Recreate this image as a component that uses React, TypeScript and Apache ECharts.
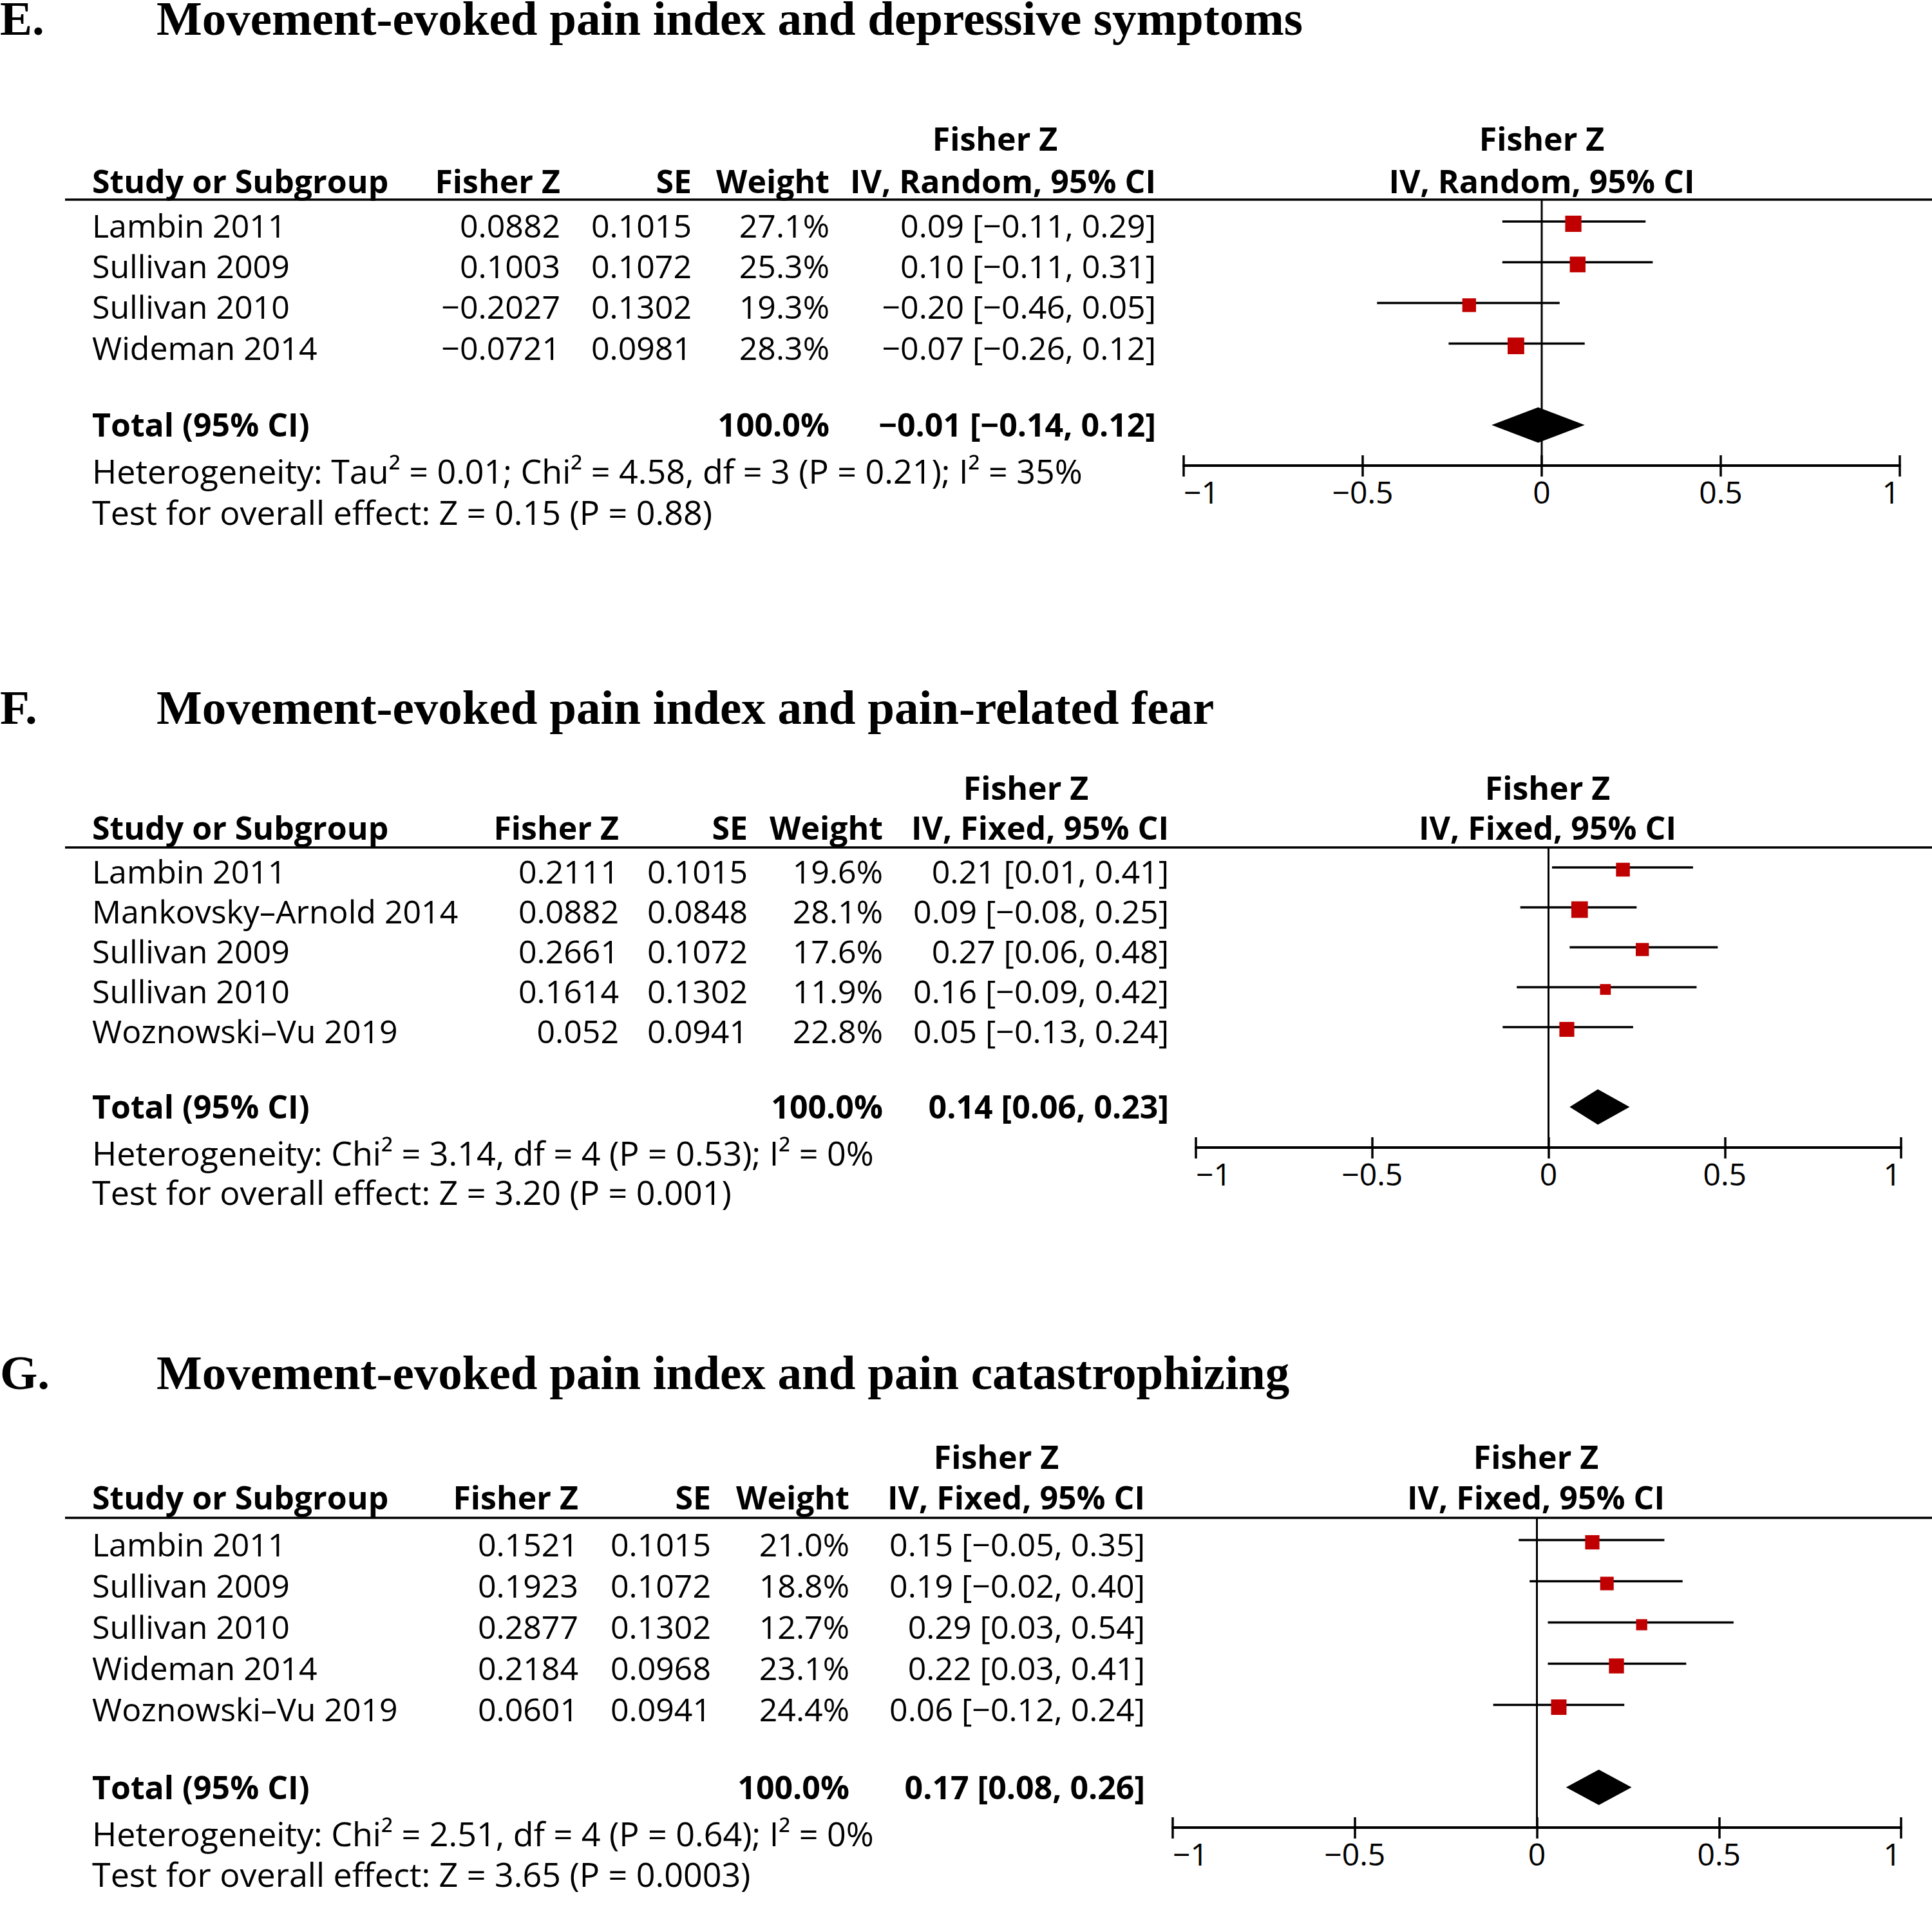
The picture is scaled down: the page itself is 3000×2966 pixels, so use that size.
import React, { useEffect, useRef } from "react";
import * as echarts from "echarts";

// ---------------- DATA ----------------
const panelLetters = ["E.", "F.", "G."];
const panelTitles = [
  "Movement-evoked pain index and depressive symptoms",
  "Movement-evoked pain index and pain-related fear",
  "Movement-evoked pain index and pain catastrophizing",
];
const panelMethods = ["IV, Random, 95% CI", "IV, Fixed, 95% CI", "IV, Fixed, 95% CI"];

// Panel E
const studiesE = ["Lambin 2011", "Sullivan 2009", "Sullivan 2010", "Wideman 2014"];
const fisherZE = [0.0882, 0.1003, -0.2027, -0.0721];
const seE = [0.1015, 0.1072, 0.1302, 0.0981];
const weightE = [27.1, 25.3, 19.3, 28.3];
const estE = [0.09, 0.1, -0.2, -0.07];
const lowE = [-0.11, -0.11, -0.46, -0.26];
const highE = [0.29, 0.31, 0.05, 0.12];
const totalE = [-0.01, -0.14, 0.12];
const hetE = "Heterogeneity: Tau² = 0.01; Chi² = 4.58, df = 3 (P = 0.21); I² = 35%";
const testE = "Test for overall effect: Z = 0.15 (P = 0.88)";

// Panel F
const studiesF = ["Lambin 2011", "Mankovsky–Arnold 2014", "Sullivan 2009", "Sullivan 2010", "Woznowski–Vu 2019"];
const fisherZF = [0.2111, 0.0882, 0.2661, 0.1614, 0.052];
const seF = [0.1015, 0.0848, 0.1072, 0.1302, 0.0941];
const weightF = [19.6, 28.1, 17.6, 11.9, 22.8];
const estF = [0.21, 0.09, 0.27, 0.16, 0.05];
const lowF = [0.01, -0.08, 0.06, -0.09, -0.13];
const highF = [0.41, 0.25, 0.48, 0.42, 0.24];
const totalF = [0.14, 0.06, 0.23];
const hetF = "Heterogeneity: Chi² = 3.14, df = 4 (P = 0.53); I² = 0%";
const testF = "Test for overall effect: Z = 3.20 (P = 0.001)";

// Panel G
const studiesG = ["Lambin 2011", "Sullivan 2009", "Sullivan 2010", "Wideman 2014", "Woznowski–Vu 2019"];
const fisherZG = [0.1521, 0.1923, 0.2877, 0.2184, 0.0601];
const seG = [0.1015, 0.1072, 0.1302, 0.0968, 0.0941];
const weightG = [21.0, 18.8, 12.7, 23.1, 24.4];
const estG = [0.15, 0.19, 0.29, 0.22, 0.06];
const lowG = [-0.05, -0.02, 0.03, 0.03, -0.12];
const highG = [0.35, 0.4, 0.54, 0.41, 0.24];
const totalG = [0.17, 0.08, 0.26];
const hetG = "Heterogeneity: Chi² = 2.51, df = 4 (P = 0.64); I² = 0%";
const testG = "Test for overall effect: Z = 3.65 (P = 0.0003)";

const axisMin = -1;
const axisMax = 1;
const axisStep = 0.5;
const headerLabels = ["Study or Subgroup", "Fisher Z", "SE", "Weight"];
const upperHeader = "Fisher Z";
const totalLabel = "Total (95% CI)";
const totalWeight = "100.0%";

// ---------------- LAYOUT (positions/styles only) ----------------
const layouts = [
  { titleY: 28, upperY: 215, headY: 281, lineY: 310, axisY: 723, row0: 344, step: 63.2, axL: 1838, axR: 2950,
    name: 143, fz: 870, se: 1074, w: 1288, ci: 1795, upper: 1545, plot: 2394, hetDy: 71, testDy: 135 },
  { titleY: 1098, upperY: 1223, headY: 1285, lineY: 1316, axisY: 1782, row0: 1347, step: 62, axL: 1857, axR: 2952,
    name: 143, fz: 961, se: 1161, w: 1371, ci: 1815, upper: 1593, plot: 2403, hetDy: 71, testDy: 132 },
  { titleY: 2131, upperY: 2262, headY: 2325, lineY: 2357, axisY: 2838, row0: 2391.5, step: 64, axL: 1821, axR: 2952,
    name: 143, fz: 898, se: 1104, w: 1319, ci: 1778, upper: 1547, plot: 2385, hetDy: 72, testDy: 135 },
];

const FONT = '"Open Sans", "Noto Sans", sans-serif';
const SERIF = '"Liberation Serif", "Times New Roman", serif';
const FS = 50;
const FS_FOOT = 52;
const RED = "#C00000";
const ROW_TEXT_DY = 6;
const TOTAL_TEXT_DY = -1;
const SQ_DY = 3.5;
const SQ_K = 4.85;
const DIAMOND_HALF = 27.5;

const fmtNum = (v: number) => (v < 0 ? "−" + String(Math.abs(v)) : String(v));
const fmt2 = (v: number) => (v < 0 ? "−" + Math.abs(v).toFixed(2) : v.toFixed(2));
const fmtCI = (e: number, l: number, h: number) => `${fmt2(e)} [${fmt2(l)}, ${fmt2(h)}]`;

const panels = [
  { studies: studiesE, fz: fisherZE, se: seE, w: weightE, est: estE, lo: lowE, hi: highE, total: totalE, het: hetE, test: testE },
  { studies: studiesF, fz: fisherZF, se: seF, w: weightF, est: estF, lo: lowF, hi: highF, total: totalF, het: hetF, test: testF },
  { studies: studiesG, fz: fisherZG, se: seG, w: weightG, est: estG, lo: lowG, hi: highG, total: totalG, het: hetG, test: testG },
];

function txt(text: string, x: number, y: number, align: string, bold: boolean, size = FS, family = FONT, lh = 54) {
  return {
    type: "text",
    x,
    y,
    silent: true,
    style: {
      text,
      fill: "#000",
      fontSize: size,
      fontFamily: family,
      fontWeight: bold ? "bold" : "normal",
      lineHeight: lh,
      align,
      textAlign: align,
      verticalAlign: "middle",
      textVerticalAlign: "middle",
    },
  };
}

function buildOption() {
  const grid: any[] = [];
  const xAxis: any[] = [];
  const yAxis: any[] = [];
  const series: any[] = [];
  const graphic: any[] = [];

  panels.forEach((p, pi) => {
    const L = layouts[pi];
    const n = p.studies.length;
    const totalRow = n + 1;
    const yMin = -(L.row0 - L.lineY) / L.step;
    const yMax = (L.axisY - L.row0) / L.step;

    grid.push({ left: L.axL, top: L.lineY, width: L.axR - L.axL, height: L.axisY - L.lineY, containLabel: false });

    xAxis.push({
      type: "value", gridIndex: pi, min: axisMin, max: axisMax, interval: axisStep, position: "bottom",
      axisLine: { show: true, onZero: false, lineStyle: { color: "#000", width: 4 } },
      axisTick: { show: true, inside: false, length: 17, lineStyle: { color: "#000", width: 3.5 } },
      axisLabel: {
        show: true, margin: 16, color: "#000", fontSize: 48, fontFamily: FONT,
        formatter: (v: number) => fmtNum(v), alignMinLabel: "left", alignMaxLabel: "right",
        showMinLabel: true, showMaxLabel: true,
      },
      splitLine: { show: false },
    });
    xAxis.push({
      type: "value", gridIndex: pi, min: axisMin, max: axisMax, interval: axisStep, position: "bottom",
      axisLine: { show: false, onZero: false },
      axisTick: { show: true, inside: true, length: 16, lineStyle: { color: "#000", width: 3.5 } },
      axisLabel: { show: false },
      splitLine: { show: false },
    });
    yAxis.push({ type: "value", gridIndex: pi, min: yMin, max: yMax, inverse: true, show: false });

    // zero line
    series.push({
      type: "line", xAxisIndex: pi * 2, yAxisIndex: pi, silent: true, showSymbol: false, symbol: "none",
      data: [[0, yMin], [0, yMax]], lineStyle: { color: "#000", width: 3 }, z: 1,
    });

    // forest marks
    const forestData: any[] = p.studies.map((_, i) => [p.fz[i], i, p.lo[i], p.hi[i], p.w[i], 0]);
    forestData.push([p.total[0], totalRow, p.total[1], p.total[2], 0, 1]);
    series.push({
      type: "custom", xAxisIndex: pi * 2, yAxisIndex: pi, silent: true, clip: false, z: 3,
      data: forestData,
      renderItem: (params: any, api: any) => {
        const est = api.value(0);
        const row = api.value(1);
        const lo = api.value(2);
        const hi = api.value(3);
        const w = api.value(4);
        const kind = api.value(5);
        const c = api.coord([est, row]);
        const a = api.coord([lo, row]);
        const b = api.coord([hi, row]);
        if (kind === 1) {
          return {
            type: "polygon",
            shape: { points: [[a[0], c[1]], [c[0], c[1] - DIAMOND_HALF], [b[0], c[1]], [c[0], c[1] + DIAMOND_HALF]] },
            style: { fill: "#000" },
          };
        }
        const s = SQ_K * Math.sqrt(w);
        return {
          type: "group",
          children: [
            { type: "line", shape: { x1: a[0], y1: a[1], x2: b[0], y2: b[1] }, style: { stroke: "#000", lineWidth: 3.5 } },
            { type: "rect", shape: { x: c[0] - s / 2, y: c[1] + SQ_DY - s / 2, width: s, height: s }, style: { fill: RED } },
          ],
        };
      },
    });

    // table text rows
    const tableData: any[] = p.studies.map((_, i) => [0, i, i]);
    tableData.push([0, totalRow, -1]);
    series.push({
      type: "custom", xAxisIndex: pi * 2, yAxisIndex: pi, silent: true, clip: false, z: 4,
      data: tableData,
      renderItem: (params: any, api: any) => {
        const row = api.value(1);
        const idx = api.value(2);
        const yc = api.coord([0, row])[1];
        if (idx < 0) {
          const y = yc + TOTAL_TEXT_DY;
          return {
            type: "group",
            children: [
              txt(totalLabel, L.name, y, "left", true),
              txt(totalWeight, L.w, y, "right", true),
              txt(fmtCI(p.total[0], p.total[1], p.total[2]), L.ci, y, "right", true),
              txt(p.het, L.name, y + L.hetDy, "left", false, FS_FOOT),
              txt(p.test, L.name, y + L.testDy, "left", false, FS_FOOT),
            ],
          };
        }
        const y = yc + ROW_TEXT_DY;
        return {
          type: "group",
          children: [
            txt(p.studies[idx], L.name, y, "left", false),
            txt(fmtNum(p.fz[idx]), L.fz, y, "right", false),
            txt(String(p.se[idx]), L.se, y, "right", false),
            txt(p.w[idx].toFixed(1) + "%", L.w, y, "right", false),
            txt(fmtCI(p.est[idx], p.lo[idx], p.hi[idx]), L.ci, y, "right", false),
          ],
        };
      },
    });

    // titles and headers
    graphic.push(txt(panelLetters[pi], 0, L.titleY, "left", true, 75, SERIF, 56));
    graphic.push(txt(panelTitles[pi], 243, L.titleY, "left", true, 75, SERIF, 56));
    graphic.push(txt(upperHeader, L.upper, L.upperY, "center", true));
    graphic.push(txt(headerLabels[0], L.name, L.headY, "left", true));
    graphic.push(txt(headerLabels[1], L.fz, L.headY, "right", true));
    graphic.push(txt(headerLabels[2], L.se, L.headY, "right", true));
    graphic.push(txt(headerLabels[3], L.w, L.headY, "right", true));
    graphic.push(txt(panelMethods[pi], L.ci, L.headY, "right", true));
    graphic.push(txt(upperHeader, L.plot, L.upperY, "center", true));
    graphic.push(txt(panelMethods[pi], L.plot, L.headY, "center", true));
    graphic.push({
      type: "line", silent: true,
      shape: { x1: 101, y1: L.lineY, x2: 3000, y2: L.lineY },
      style: { stroke: "#000", lineWidth: 3.5 },
    });
  });

  return {
    animation: false,
    backgroundColor: "#fff",
    grid,
    xAxis,
    yAxis,
    series,
    graphic: { elements: graphic },
  };
}

export default function App() {
  const ref = useRef<HTMLDivElement>(null);
  useEffect(() => {
    if (!ref.current) return;
    const chart = echarts.init(ref.current, undefined, { renderer: "svg" });
    chart.setOption(buildOption() as any);
    return () => chart.dispose();
  }, []);
  return (
    <div
      ref={ref}
      style={{ position: "absolute", left: 0, top: 0, width: 3000, height: 2966, background: "#fff" }}
    />
  );
}
